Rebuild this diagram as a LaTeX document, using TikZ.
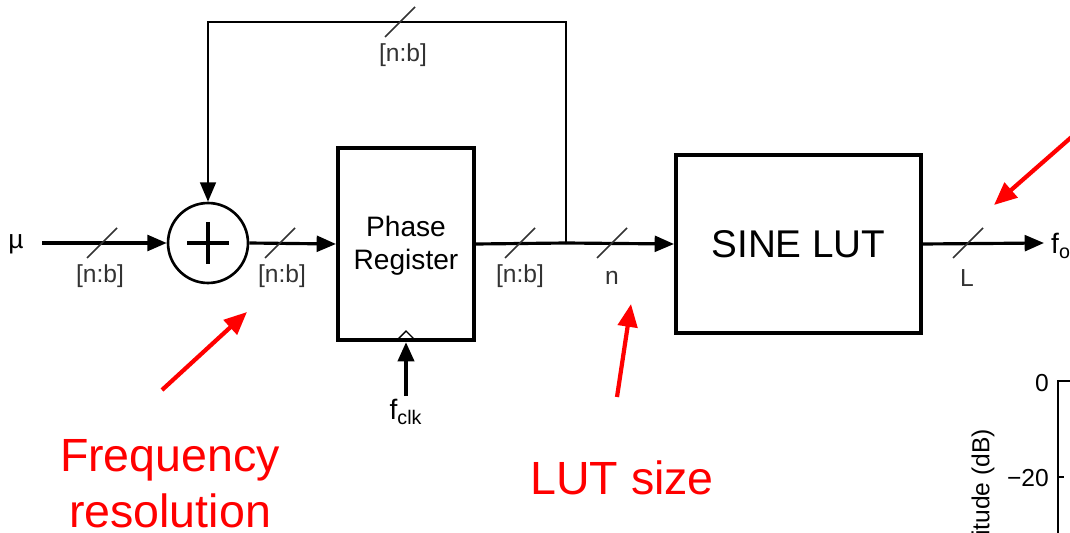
\documentclass[tikz,border=0pt]{standalone}
\usepackage{fontspec}
\setmainfont{Liberation Sans}
\usetikzlibrary{arrows.meta,calc}

\tikzset{
  sig/.style={line width=1.8pt, -{Triangle[length=11pt,width=9pt]}},
  wire/.style={line width=1.8pt},
  blk/.style={draw, line width=2.3pt, align=center},
  slash/.style={line width=0.9pt, black!80},
  bus/.style={font=\fontsize{14}{16}\selectfont, text=black!80},
  note/.style={text=red, font=\fontsize{26.5}{32}\selectfont, align=center},
  pointer/.style={red, line width=2.4pt, -{Triangle[length=13pt,width=11pt]}},
}

\begin{document}
\begin{tikzpicture}[x=0.02cm, y=-0.02cm]
      \useasboundingbox (0,0) rectangle (1070,533);
      \clip (0,0) rectangle (1070,533);

      % blocks
      \node[font=\fontsize{15}{16}\selectfont] (mu) at (16,244) {µ};
      \node[draw, circle, line width=1.5pt, minimum size=1.6cm] (sum) at (208,243) {};
      \node[blk, minimum width=2.72cm, minimum height=3.84cm,
            font=\fontsize{16}{19}\selectfont] (PR) at (406,244) {};
      \node[align=center, font=\fontsize{16}{19}\selectfont] (PRtxt) at (406,246) {Phase\\Register};
      \node[blk, minimum width=4.9cm, minimum height=3.56cm,
            font=\fontsize{22}{24}\selectfont] (LUT) at (798.5,244) {SINE LUT};
      \node[font=\fontsize{16}{18}\selectfont] (clk) at (406,412) {f\textsubscript{clk}};
      \node[anchor=west, font=\fontsize{16}{18}\selectfont] (fo) at (1045,246) {f\textsubscript{o}};

      \coordinate (in)  at (42,243);
      \coordinate (jn)  at (566,243);
      \coordinate (out) at (1044,243);
      \coordinate (clkin) at (406,396);

      % plus sign
      \draw[line width=2.2pt] (sum.center) +(-21,0) -- +(21,0) +(0,-21) -- +(0,21);

      % signal path
      \draw[sig] (in) -- (sum.west);
      \draw[sig] (sum.east) -- (PR.west);
      \draw[wire] (PR.east) -- (jn);
      \draw[sig] (jn) -- (LUT.west);
      \draw[sig] (LUT.east) -- (out);
      \draw[line width=1.2pt, -{Triangle[length=11pt,width=9pt]}]
            (jn) |- (208,22) -- (sum.north);
      \draw[line width=2.4pt, -{Triangle[length=11pt,width=9pt]}] (clkin) -- (PR.south);
      \draw[line width=0.8pt] ($(PR.south)+(-9,-2)$) -- ($(PR.south)+(0,-11)$) -- ($(PR.south)+(9,-2)$);

      % bus widths
      \foreach \x/\y in {102/243, 280/243, 520/243, 612/243, 968/243, 400/22}{
        \draw[slash] (\x,\y) +(-15,15) -- +(15,-15);
      }
      \node[bus] (w1) at (100,276) {[n:b]};
      \node[bus] (w2) at (282,276) {[n:b]};
      \node[bus] (w3) at (520,276) {[n:b]};
      \node[bus] (w4) at (612,278) {n};
      \node[bus] (w5) at (967,278) {L};
      \node[bus] (w6) at (403,55)  {[n:b]};

      % annotations
      \node[note] (res) at (170,484) {Frequency\\resolution};
      \node[note] (size) at (622,478) {LUT size};
      \coordinate (p1a) at (162,390); \coordinate (p1b) at (247,312);
      \coordinate (p2a) at (617,397); \coordinate (p2b) at (631,304);
      \coordinate (p3a) at (1075,134); \coordinate (p3b) at (994,205);
      \draw[pointer] (p1a) -- (p1b);
      \draw[pointer] (p2a) -- (p2b);
      \draw[pointer] (p3a) -- (p3b);

      % spectrum plot (cut off)
      \coordinate (ax) at (1058,381);
      \draw[line width=0.9pt] (1070,381) -- (ax) -- (1058,540);
      \draw[line width=0.9pt] (1058,477) -- (1064,477);
      \node[anchor=east, font=\fontsize{14}{16}\selectfont] (t0) at (1055,383) {0};
      \node[anchor=east, font=\fontsize{14}{16}\selectfont] (t20) at (1055,478) {−20};
      \node[rotate=90, anchor=west, font=\fontsize{14}{16}\selectfont] (ylab) at (983,542) {itude (dB)};
    \end{tikzpicture}
\end{document}
